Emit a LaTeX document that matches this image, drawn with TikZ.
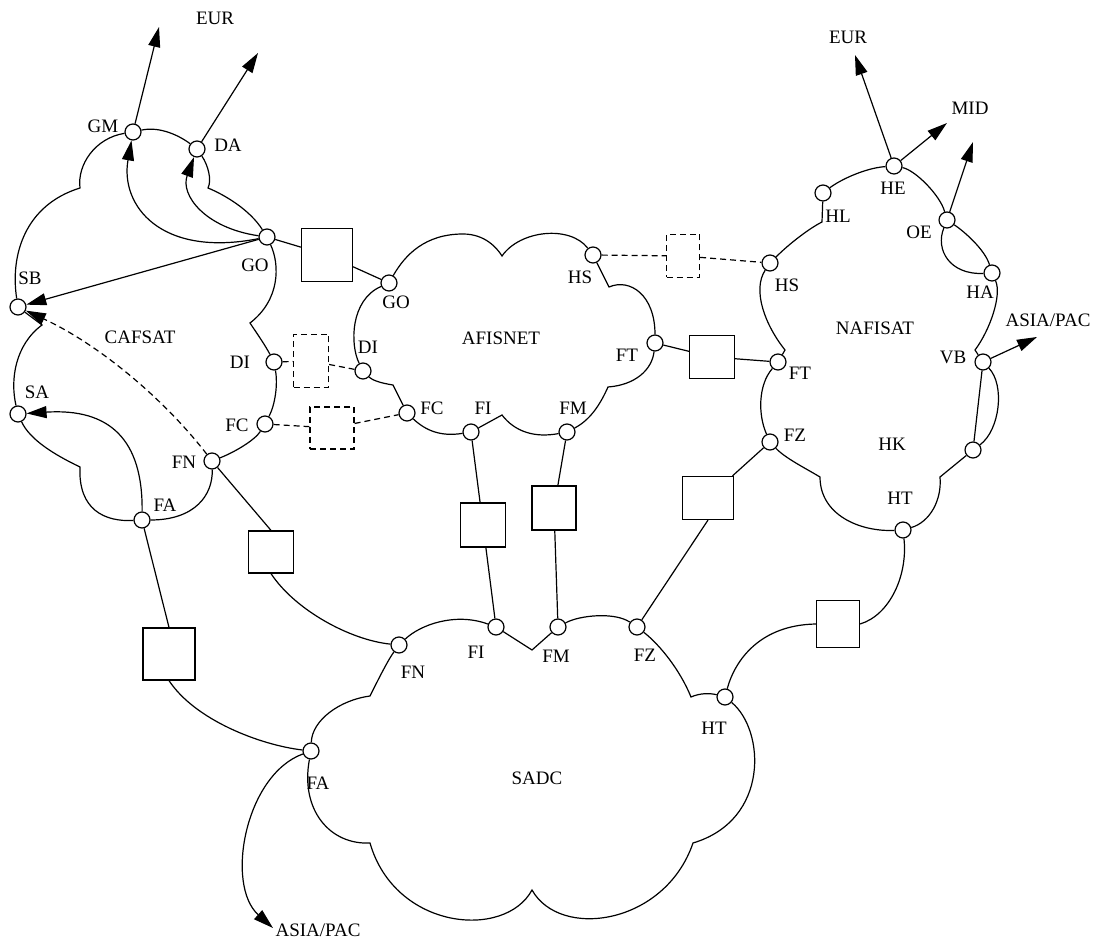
\documentclass[tikz,border=0pt]{standalone}
\usepackage{fontspec}
\setmainfont{Liberation Serif}
\usetikzlibrary{arrows.meta, positioning}
\tikzset{
  port/.style={circle, draw, fill=white, minimum size=8pt, inner sep=0pt},
  gwbox/.style={draw, fill=white, inner sep=0pt},
  dline/.style={dash pattern=on 3pt off 2pt},
  dgwbox/.style={gwbox, dline},
  lbl/.style={inner sep=0pt, font=\fontsize{9.5}{11}\selectfont},
  arr/.style={-{Triangle[length=10pt,width=6pt]}},
}

\begin{document}
\begin{tikzpicture}[x=0.5pt, y=-0.5pt, line width=0.6pt]
    \path[fill=white] (0,0) rectangle (1097,945);

    % CAFSAT ports
    \node[port] (cGM) at (133,132) {};
    \node[port] (cDA) at (197,149) {};
    \node[port] (cGO) at (267,237) {};
    \node[port] (cDI) at (274,362) {};
    \node[port] (cFC) at (265,424) {};
    \node[port] (cFN) at (212,461) {};
    \node[port] (cFA) at (142,520) {};
    \node[port] (cSA) at (18,414) {};
    \node[port] (cSB) at (18,307) {};

    % AFISNET ports
    \node[port] (aGO) at (389,283) {};
    \node[port] (aHS) at (593,255) {};
    \node[port] (aFT) at (655,343) {};
    \node[port] (aFM) at (567,432) {};
    \node[port] (aFI) at (471,432) {};
    \node[port] (aFC) at (407,413) {};
    \node[port] (aDI) at (363,371) {};

    % NAFISAT ports
    \node[port] (nHE) at (894,166) {};
    \node[port] (nHL) at (823,193) {};
    \node[port] (nOE) at (947,220) {};
    \node[port] (nHA) at (992,273) {};
    \node[port] (nHS) at (770,263) {};
    \node[port] (nFT) at (778,362) {};
    \node[port] (nFZ) at (770,442) {};
    \node[port] (nHT) at (903,530) {};
    \node[port] (nVB) at (983,362) {};
    \node[port] (nHK) at (973,450) {};

    % SADC ports
    \node[port] (sFN) at (399,645) {};
    \node[port] (sFI) at (496,627) {};
    \node[port] (sFM) at (558,627) {};
    \node[port] (sFZ) at (637,627) {};
    \node[port] (sHT) at (725,697) {};
    \node[port] (sFA) at (311,751) {};

    % Gateways
    \node[gwbox, minimum width=25.5pt, minimum height=26.5pt] (gGO) at (327,255) {};
    \node[dgwbox, minimum width=17.5pt, minimum height=26.5pt] (gDI) at (311,361) {};
    \node[dgwbox, minimum width=22pt, minimum height=21pt] (gFC) at (332,428) {};
    \node[gwbox, minimum width=22.5pt, minimum height=21pt] (gFN) at (271,552) {};
    \node[gwbox, minimum width=26pt, minimum height=26pt] (gFA) at (169,654) {};
    \node[dgwbox, minimum width=16.5pt, minimum height=21.5pt] (gHS) at (683,256) {};
    \node[gwbox, minimum width=22.5pt, minimum height=21.5pt] (gFT) at (712,357) {};
    \node[gwbox, minimum width=22.5pt, minimum height=22pt] (gFI) at (483,525) {};
    \node[gwbox, minimum width=22pt, minimum height=22pt] (gFM) at (554,508) {};
    \node[gwbox, minimum width=25.5pt, minimum height=21.5pt] (gFZ) at (708,498) {};
    \node[gwbox, minimum width=21.5pt, minimum height=23.5pt] (gHT) at (838,624) {};

    % Labels
    \node[lbl] (lEURa) at (215,18) {EUR};
    \node[lbl] (lEURb) at (848,37) {EUR};
    \node[lbl] (lMID) at (970,108) {MID};
    \node[lbl] (lASIAa) at (1048,320) {ASIA/PAC};
    \node[lbl] (lASIAb) at (318,930) {ASIA/PAC};

    \node[lbl] (lcGM) at (103,126) {GM};
    \node[lbl] (lcDA) at (228,145) {DA};
    \node[lbl] (lcGO) at (255,265) {GO};
    \node[lbl] (lcSB) at (30,278) {SB};
    \node[lbl] (lCAF) at (140,337) {CAFSAT};
    \node[lbl] (lcDI) at (240,362) {DI};
    \node[lbl] (lcFC) at (237,425) {FC};
    \node[lbl] (lcFN) at (184,462) {FN};
    \node[lbl] (lcSA) at (37,392) {SA};
    \node[lbl] (lcFA) at (165,505) {FA};

    \node[lbl] (laGO) at (396,302) {GO};
    \node[lbl] (laDI) at (368,347) {DI};
    \node[lbl] (laFC) at (432,408) {FC};
    \node[lbl] (laFI) at (483,408) {FI};
    \node[lbl] (laFM) at (573,408) {FM};
    \node[lbl] (laFT) at (627,355) {FT};
    \node[lbl] (laHS) at (580,277) {HS};
    \node[lbl] (lAFI) at (501,338) {AFISNET};

    \node[lbl] (lnHE) at (893,188) {HE};
    \node[lbl] (lnHL) at (838,216) {HL};
    \node[lbl] (lnOE) at (919,232) {OE};
    \node[lbl] (lnHA) at (980,292) {HA};
    \node[lbl] (lnHS) at (787,285) {HS};
    \node[lbl] (lNAF) at (875,328) {NAFISAT};
    \node[lbl] (lnVB) at (953,357) {VB};
    \node[lbl] (lnFT) at (800,373) {FT};
    \node[lbl] (lnFZ) at (795,435) {FZ};
    \node[lbl] (lnHK) at (892,444) {HK};
    \node[lbl] (lnHT) at (900,498) {HT};

    \node[lbl] (lsFN) at (413,672) {FN};
    \node[lbl] (lsFI) at (476,652) {FI};
    \node[lbl] (lsFM) at (556,656) {FM};
    \node[lbl] (lsFZ) at (645,655) {FZ};
    \node[lbl] (lsHT) at (714,728) {HT};
    \node[lbl] (lsFA) at (318,783) {FA};
    \node[lbl] (lSADC) at (537,778) {SADC};

    % Free arrow ends
    \coordinate (toEURa) at (159,27);
    \coordinate (toEURb) at (258,53);
    \coordinate (toEURc) at (855,55);
    \coordinate (toMID) at (947,123);
    \coordinate (toOE) at (973,142);
    \coordinate (toASIAa) at (1037,337);
    \coordinate (toASIAb) at (273,928);

    % CAFSAT cloud
    \draw (cSB) .. controls (10,255) and (25,205) .. (80,188)
        .. controls (77,165) and (95,138) .. (cGM)
        .. controls (160,126) and (180,136) .. (cDA)
        .. controls (208,165) and (212,180) .. (208,188)
        .. controls (225,195) and (250,210) .. (cGO)
        .. controls (280,265) and (280,300) .. (250,323)
        .. controls (258,335) and (265,345) .. (cDI)
        .. controls (278,385) and (275,405) .. (cFC)
        .. controls (255,440) and (235,452) .. (cFN)
        .. controls (213,495) and (195,520) .. (cFA)
        .. controls (105,522) and (78,510) .. (80,467)
        .. controls (55,455) and (30,440) .. (cSA)
        .. controls (10,380) and (15,345) .. (42,325) -- (cSB);

    % AFISNET cloud
    \draw (aGO) .. controls (405,255) and (425,234) .. (463,234)
        .. controls (485,234) and (497,248) .. (502,256)
        .. controls (520,230) and (570,225) .. (aHS)
        -- (609,287)
        .. controls (630,278) and (655,295) .. (aFT)
        .. controls (652,370) and (635,385) .. (608,387)
        .. controls (600,405) and (590,420) .. (aFM)
        .. controls (535,438) and (515,432) .. (502,415)
        -- (aFI)
        .. controls (440,437) and (425,430) .. (aFC)
        -- (393,385)
        .. controls (380,383) and (372,380) .. (aDI)
        .. controls (350,345) and (350,300) .. (aGO);

    % NAFISAT cloud
    \draw (nHS) .. controls (790,243) and (810,228) .. (822,222) -- (nHL)
        .. controls (840,180) and (865,168) .. (nHE)
        .. controls (915,170) and (940,195) .. (nOE)
        .. controls (965,232) and (985,250) .. (nHA)
        .. controls (1002,295) and (990,330) .. (975,350)
        -- (nVB) -- (nHK) -- (940,477)
        .. controls (942,500) and (930,522) .. (nHT)
        .. controls (860,532) and (820,515) .. (820,477)
        .. controls (805,468) and (785,458) .. (nFZ)
        .. controls (758,415) and (758,385) .. (nFT)
        -- (785,350)
        .. controls (765,325) and (752,290) .. (nHS);
    \draw (nOE) .. controls (935,250) and (950,275) .. (nHA);
    \draw (nVB) .. controls (1005,385) and (1000,430) .. (nHK);

    % SADC cloud
    \draw (sFA) .. controls (312,720) and (340,700) .. (370,696)
        .. controls (378,680) and (388,660) .. (sFN)
        .. controls (420,625) and (455,612) .. (sFI)
        -- (532,650) -- (sFM)
        .. controls (580,615) and (615,612) .. (sFZ)
        .. controls (660,645) and (680,670) .. (691,697)
        .. controls (700,693) and (710,693) .. (sHT)
        .. controls (765,730) and (770,820) .. (693,843)
        .. controls (665,925) and (560,940) .. (532,890)
        .. controls (505,940) and (395,930) .. (370,843)
        .. controls (330,845) and (300,810) .. (sFA);

    % Arrows out of the clouds
    \draw[arr] (cGM) -- (toEURa);
    \draw[arr] (cDA) -- (toEURb);
    \draw[arr] (cGO) .. controls (160,258) and (120,205) .. (cGM);
    \draw[arr] (cGO) .. controls (205,228) and (180,195) .. (cDA);
    \draw[arr] (cGO) -- (cSB);
    \draw[arr, dline] (cFN) .. controls (165,400) and (100,345) .. (cSB);
    \draw[arr] (cFA) .. controls (143,440) and (110,408) .. (cSA);
    \draw[arr] (nHE) -- (toEURc);
    \draw[arr] (nHE) -- (toMID);
    \draw[arr] (nOE) -- (toOE);
    \draw[arr] (nVB) -- (toASIAa);
    \draw[arr] (sFA) .. controls (245,775) and (225,885) .. (toASIAb);

    % Gateway links
    \draw (cGO) -- (gGO) -- (aGO);
    \draw[dline] (cDI) -- (gDI) -- (aDI);
    \draw[dline] (cFC) -- (gFC) -- (aFC);
    \draw (cFN) -- (gFN.north);
    \draw (gFN.south) .. controls (295,610) and (350,640) .. (sFN);
    \draw (cFA) -- (gFA.north);
    \draw (gFA.south) .. controls (195,720) and (260,745) .. (sFA);
    \draw[dline] (aHS) -- (gHS) -- (nHS);
    \draw (aFT) -- (gFT) -- (nFT);
    \draw (aFI) -- (gFI) -- (sFI);
    \draw (aFM) -- (gFM) -- (sFM);
    \draw (nFZ) -- (gFZ);
    \draw (gFZ.south) -- (sFZ);
    \draw (sHT) .. controls (735,660) and (760,625) .. (gHT.west);
    \draw (gHT.east) .. controls (890,615) and (908,575) .. (nHT);
\end{tikzpicture}
\end{document}
